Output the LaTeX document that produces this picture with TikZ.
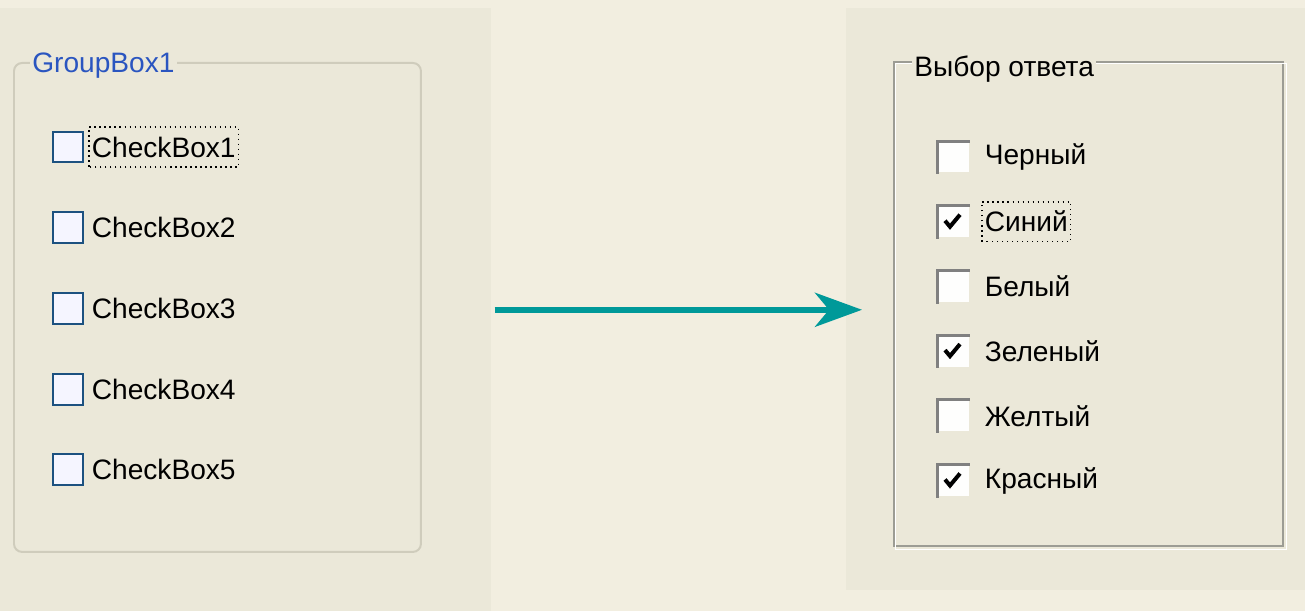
\documentclass[tikz,border=0pt]{standalone}
\usepackage{fontspec}
\setmainfont{Liberation Sans}
\usetikzlibrary{arrows.meta}
\usetikzlibrary{positioning}
\definecolor{pagebg}{HTML}{F2EEE0}
\definecolor{panelbg}{HTML}{EBE8D9}
\definecolor{xpblue}{HTML}{1C5180}
\definecolor{xptitle}{HTML}{2A55C0}
\definecolor{xpframe}{HTML}{CFCCBC}
\definecolor{etchdark}{HTML}{9C9C94}
\definecolor{sunkdark}{HTML}{808080}
\definecolor{flowteal}{HTML}{009999}

\tikzset{
  panel/.style={fill=panelbg, draw=none, inner sep=0pt, anchor=north west},
  lgroup/.style={draw=xpframe, line width=0.04cm, rounded corners=0.16cm, inner sep=0pt, anchor=north west},
  rgroup/.style={draw=etchdark, line width=0.04cm, inner sep=0pt, anchor=north west},
  etch/.style={draw=white, line width=0.03cm},
  gtitle/.style={fill=panelbg, inner xsep=0.04cm, inner ysep=0pt, anchor=west, font=\fontsize{16}{19}\selectfont},
  xpbox/.style={draw=xpblue, line width=0.04cm, fill=blue!4!white, minimum size=0.62cm, inner sep=0pt},
  oldbox/.style={draw=none, fill=white!96!panelbg, minimum size=0.62cm, inner sep=0pt},
  sunk/.style={draw=sunkdark, line width=0.06cm, line cap=rect},
  chk/.style={draw=black, line width=0.08cm, line join=miter},
  cblabel/.style={anchor=west, inner xsep=0.05cm, inner ysep=0pt, minimum height=0.78cm, font=\fontsize{16}{19}\selectfont},
  focus/.style={draw=black, dotted, line width=0.03cm},
  flow/.style={draw=flowteal, line width=0.12cm, -{Stealth[length=0.94cm, width=0.68cm, inset=0.28cm]}}
}

\begin{document}
\begin{tikzpicture}[x=0.02cm, y=-0.02cm]
  \useasboundingbox[fill=pagebg] (0,0) rectangle (1305,611);
  \node[panel, minimum width=9.82cm, minimum height=12.06cm] (lpanel) at (0,8) {};
  \node[panel, minimum width=9.18cm, minimum height=11.64cm] (rpanel) at (846,8) {};

  \node[lgroup, minimum width=8.14cm, minimum height=9.78cm] (lgroup) at (13,62) {};
  \node[gtitle, text=xptitle] (ltitle) at ([xshift=0.34cm, yshift=-0.08cm]lgroup.north west) {GroupBox1};
  \foreach \i in {1,...,5} {
    \node[xpbox] (cb_\i) at (68, {147+(\i-1)*80.7}) {};
    \node[cblabel] (lb_\i) at (89, {147+(\i-1)*80.7}) {CheckBox\i};
  }
  \draw[focus] (lb_1.south west) rectangle (lb_1.north east);

  \node[rgroup, minimum width=7.78cm, minimum height=9.68cm] (rgroup) at (893,61) {};
  \draw[etch] ([shift={(2.5,2.5)}]rgroup.north west) rectangle ([shift={(2.5,2.5)}]rgroup.south east);
  \node[gtitle] (rtitle) at ([xshift=0.38cm, yshift=-0.16cm]rgroup.north west) {Выбор ответа};
  \foreach \t/\c [count=\i] in {Черный/0, Синий/1, Белый/0, Зеленый/1, Желтый/0, Красный/1} {
    \node[oldbox] (rb_\i) at (953, {157+(\i-1)*64.7}) {};
    \draw[sunk] (rb_\i.south west) -- (rb_\i.north west) -- (rb_\i.north east);
    \node[cblabel] (rl_\i) at (982, {157+(\i-1)*64.7}) {\t};
    \ifnum\c=1
      \draw[chk] ([shift={(-8,-1)}]rb_\i.center) -- ([shift={(-3,5)}]rb_\i.center) -- ([shift={(7,-7)}]rb_\i.center);
    \fi
  }
  \draw[focus] (rl_2.south west) rectangle (rl_2.north east);

  \draw[flow, shorten <=0.06cm, shorten >=-0.32cm] (lpanel.east) -- (lpanel.east -| rpanel.west);
\end{tikzpicture}
\end{document}
